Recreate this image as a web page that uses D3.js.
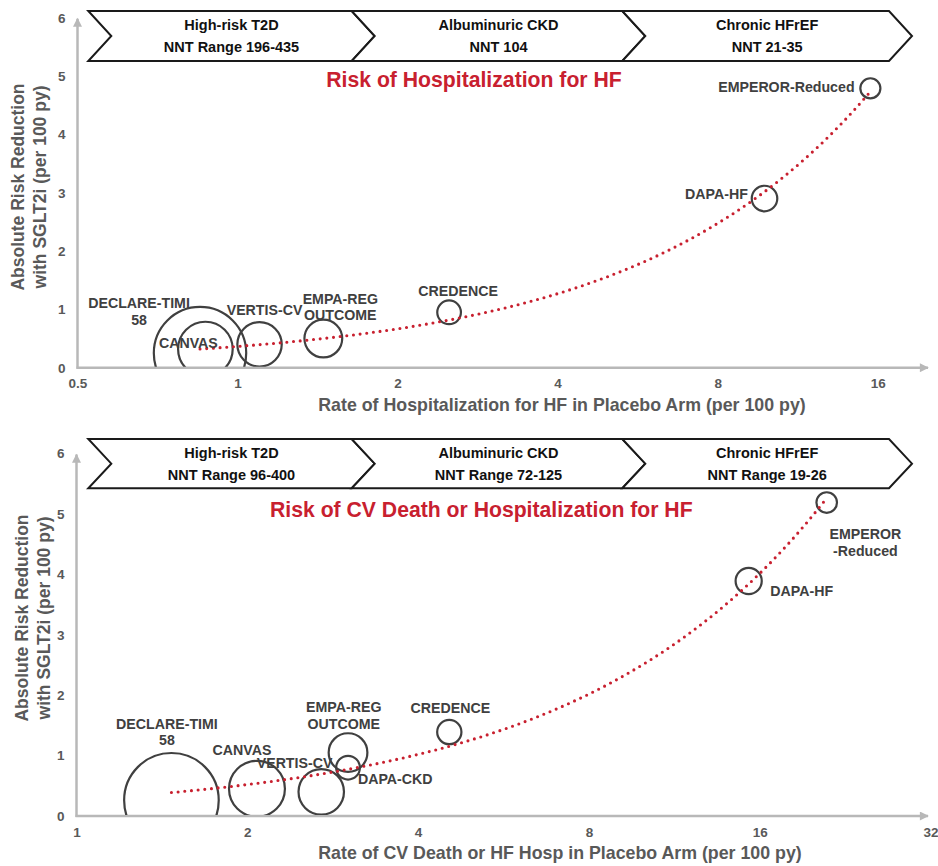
<!DOCTYPE html>
<html>
<head>
<meta charset="utf-8">
<script src="https://cdn.jsdelivr.net/npm/d3@7"></script>
<style>
  html, body { margin: 0; padding: 0; background: #fff; }
  svg { display: block; font-family: "Liberation Sans", Arial, Helvetica, sans-serif; font-weight: bold; }
</style>
</head>
<body>
<svg id="chart" width="938" height="866"></svg>
<script>
// ---- Data ----------------------------------------------------------------
// Patients enrolled per trial (bubble size)
const trialSize = {
  "DECLARE-TIMI 58": 17160,
  "CANVAS": 10142,
  "VERTIS-CV": 8246,
  "EMPA-REG OUTCOME": 7020,
  "CREDENCE": 4401,
  "DAPA-CKD": 4304,
  "DAPA-HF": 4744,
  "EMPEROR-Reduced": 3730
};

// Panel A: hospitalization for heart failure
const hhfTrials = ["DECLARE-TIMI 58", "CANVAS", "VERTIS-CV", "EMPA-REG OUTCOME", "CREDENCE", "DAPA-HF", "EMPEROR-Reduced"];
const hhfPlaceboRate = [0.85, 0.87, 1.10, 1.45, 2.50, 9.8, 15.5];
const hhfRiskReduction = [0.25, 0.32, 0.40, 0.50, 0.95, 2.90, 4.79];
const hhfTicksX = [0.5, 1, 2, 4, 8, 16];

// Panel B: CV death or hospitalization for heart failure
const cvTrials = ["DECLARE-TIMI 58", "CANVAS", "VERTIS-CV", "EMPA-REG OUTCOME", "DAPA-CKD", "CREDENCE", "DAPA-HF", "EMPEROR-Reduced"];
const cvPlaceboRate = [1.47, 2.08, 2.70, 3.01, 3.01, 4.54, 15.3, 21.0];
const cvRiskReduction = [0.26, 0.45, 0.40, 1.05, 0.80, 1.39, 3.89, 5.19];
const cvTicksX = [1, 2, 4, 8, 16, 32];

const yTicks = [0, 1, 2, 3, 4, 5, 6];

// Population bands shown above each panel
const bandNames = ["High-risk T2D", "Albuminuric CKD", "Chronic HFrEF"];
const hhfBandNnt = ["NNT Range 196-435", "NNT 104", "NNT 21-35"];
const cvBandNnt = ["NNT Range 96-400", "NNT Range 72-125", "NNT Range 19-26"];

// ---- Styling -------------------------------------------------------------
const AXIS_GREY = "#b8b8b8";
const TEXT_GREY = "#595959";
const BUBBLE = "#404040";
const RED = "#c8202f";
const FONT = "Liberation Sans, Arial, sans-serif";

const svg = d3.select("#chart");

const defs = svg.append("defs");
defs.append("marker")
  .attr("id", "arrow")
  .attr("viewBox", "0 0 10 10")
  .attr("refX", 9).attr("refY", 5)
  .attr("markerUnits", "userSpaceOnUse")
  .attr("markerWidth", 10).attr("markerHeight", 9)
  .attr("orient", "auto")
  .append("path").attr("d", "M0,0 L10,5 L0,10 z").attr("fill", AXIS_GREY);

// label offsets (px) from each bubble centre
const hhfLabels = {
  "DECLARE-TIMI 58": { dx: -61, dy: -50, lines: ["DECLARE-TIMI", "58"] },
  "CANVAS": { dx: -17, dy: -6 },
  "VERTIS-CV": { dx: 5, dy: -34 },
  "EMPA-REG OUTCOME": { dx: 17, dy: -40, lines: ["EMPA-REG", "OUTCOME"] },
  "CREDENCE": { dx: 9, dy: -21 },
  "DAPA-HF": { dx: -48, dy: -4.5 },
  "EMPEROR-Reduced": { dx: -84, dy: -1 }
};
const cvLabels = {
  "DECLARE-TIMI 58": { dx: -4.5, dy: -76.5, lines: ["DECLARE-TIMI", "58"] },
  "CANVAS": { dx: -15, dy: -38.7 },
  "VERTIS-CV": { dx: -26.7, dy: -29.2 },
  "EMPA-REG OUTCOME": { dx: -4.3, dy: -45.1, lines: ["EMPA-REG", "OUTCOME"] },
  "DAPA-CKD": { dx: 47.2, dy: 11.8 },
  "CREDENCE": { dx: 1, dy: -24.3 },
  "DAPA-HF": { dx: 53, dy: 9.9 },
  "EMPEROR-Reduced": { dx: 38.7, dy: 31.5, lines: ["EMPEROR", "-Reduced"] }
};

function drawPanel(cfg) {
  const g = svg.append("g");
  const x = d3.scaleLog().base(2).domain(cfg.xDomain).range(cfg.xRange);
  const y = d3.scaleLinear().domain([0, 6]).range(cfg.yRange);
  const r = d3.scaleLinear().domain([0, 17160]).range([0, cfg.rMax]);
  const x0 = cfg.xRange[0], y0 = y(0);

  // population bands (chevrons)
  const [bTop, bBot] = cfg.band;
  const bMid = (bTop + bBot) / 2;
  const edges = [88.3, 351.7, 622.3, 889];
  const tip = 23;
  bandNames.forEach((name, i) => {
    const a = edges[i], b = edges[i + 1];
    const pts = [[a, bTop], [b, bTop], [b + tip, bMid], [b, bBot], [a, bBot], [a + tip, bMid]];
    g.append("path")
      .attr("d", d3.line()(pts) + "Z")
      .attr("fill", "#fff").attr("stroke", "#1a1a1a").attr("stroke-width", 2)
      .attr("stroke-linejoin", "miter");
    const cx = (a + tip + b) / 2;
    g.append("text").attr("x", cx).attr("y", bTop + 14).attr("dy", "0.35em")
      .attr("text-anchor", "middle").attr("font-size", 14.5).attr("fill", "#111").text(name);
    g.append("text").attr("x", cx).attr("y", bTop + 35.5).attr("dy", "0.35em")
      .attr("text-anchor", "middle").attr("font-size", 14.5).attr("fill", "#111").text(cfg.nnt[i]);
  });

  // panel title
  g.append("text").attr("x", cfg.title[1]).attr("y", cfg.title[2]).attr("dy", "0.35em")
    .attr("text-anchor", "middle").attr("font-size", 21.2).attr("fill", RED).text(cfg.title[0]);

  // axes (ticks as text only, arrowed axis lines)
  const xAxis = d3.axisBottom(x).tickValues(cfg.ticksX).tickSize(0).tickPadding(11)
    .tickFormat(d => String(d));
  g.append("g").attr("transform", `translate(0,${y0})`).call(xAxis)
    .call(s => s.select(".domain").remove())
    .selectAll("text").attr("font-size", 13.5).attr("fill", TEXT_GREY)
    .attr("font-family", FONT).attr("font-weight", "bold");
  const yAxis = d3.axisLeft(y).tickValues(yTicks).tickSize(0).tickPadding(12)
    .tickFormat(d3.format("d"));
  g.append("g").attr("transform", `translate(${x0},0)`).call(yAxis)
    .call(s => s.select(".domain").remove())
    .selectAll("text").attr("font-size", 13.5).attr("fill", TEXT_GREY)
    .attr("font-family", FONT).attr("font-weight", "bold");

  g.append("line").attr("x1", x0).attr("x2", x0).attr("y1", y0 + 1).attr("y2", y(6) + 1)
    .attr("stroke", AXIS_GREY).attr("stroke-width", 2.5).attr("marker-end", "url(#arrow)");
  g.append("line").attr("x1", x0 - 1).attr("x2", cfg.xAxisEnd).attr("y1", y0).attr("y2", y0)
    .attr("stroke", AXIS_GREY).attr("stroke-width", 2.5).attr("marker-end", "url(#arrow)");

  // axis titles
  g.append("text").attr("x", cfg.xTitle[1]).attr("y", cfg.xTitle[2]).attr("dy", "0.35em")
    .attr("text-anchor", "middle").attr("font-size", 17.8).attr("fill", TEXT_GREY).text(cfg.xTitle[0]);
  const yt = g.append("text").attr("transform", `translate(${cfg.yTitle[0]},${cfg.yTitle[2]}) rotate(-90)`)
    .attr("text-anchor", "middle").attr("font-size", 17.5).attr("fill", TEXT_GREY);
  yt.append("tspan").attr("x", 0).attr("y", 0).attr("dy", "0.35em").text("Absolute Risk Reduction");
  yt.append("tspan").attr("x", 0).attr("y", cfg.yTitle[1] - cfg.yTitle[0]).attr("dy", "0.35em").text("with SGLT2i (per 100 py)");

  // bubbles, clipped at the x axis
  const data = cfg.trials.map((t, i) => ({ name: t, rate: cfg.rate[i], arr: cfg.arr[i], n: trialSize[t] }));
  const clipId = "clip-" + cfg.id;
  defs.append("clipPath").attr("id", clipId).append("rect")
    .attr("x", x0).attr("y", 0).attr("width", 938 - x0).attr("height", y0 - 1);
  g.append("g").attr("clip-path", `url(#${clipId})`)
    .selectAll("circle").data(data).join("circle")
    .attr("cx", d => x(d.rate)).attr("cy", d => y(d.arr)).attr("r", d => r(d.n))
    .attr("fill", "none").attr("stroke", BUBBLE).attr("stroke-width", 2.2);

  // least-squares linear trend (y = a + b·x), drawn across the data range on the log axis
  const mx = d3.mean(data, d => d.rate), my = d3.mean(data, d => d.arr);
  const b = d3.sum(data, d => (d.rate - mx) * (d.arr - my)) / d3.sum(data, d => (d.rate - mx) ** 2);
  const a = my - b * mx;
  const [lo, hi] = d3.extent(data, d => d.rate);
  const samples = d3.range(0, 201).map(i => lo * Math.pow(hi / lo, i / 200));
  g.append("path")
    .attr("d", d3.line().x(v => x(v)).y(v => y(a + b * v))(samples))
    .attr("fill", "none").attr("stroke", RED).attr("stroke-width", 3.1)
    .attr("stroke-linecap", "round").attr("stroke-dasharray", "0 6.7");

  // trial labels
  data.forEach(d => {
    const L = cfg.labels[d.name];
    const lines = L.lines || [d.name];
    const t = g.append("text").attr("text-anchor", "middle").attr("font-size", 14.2).attr("fill", BUBBLE);
    lines.forEach((ln, k) => {
      t.append("tspan").attr("x", x(d.rate) + L.dx).attr("y", y(d.arr) + L.dy + k * 16.6)
        .attr("dy", "0.35em").text(ln);
    });
  });
}

drawPanel({
  id: "hhf",
  xDomain: [0.5, 16], xRange: [77.5, 877.7], xAxisEnd: 928,
  yRange: [367.7, 17.7], rMax: 46.2,
  band: [11, 61], nnt: hhfBandNnt,
  title: ["Risk of Hospitalization for HF", 474, 80],
  ticksX: hhfTicksX,
  xTitle: ["Rate of Hospitalization for HF in Placebo Arm (per 100 py)", 562, 405],
  yTitle: [18.3, 40, 187],
  trials: hhfTrials, rate: hhfPlaceboRate, arr: hhfRiskReduction, labels: hhfLabels
});

drawPanel({
  id: "cv",
  xDomain: [1, 32], xRange: [76.5, 930.5], xAxisEnd: 928,
  yRange: [816, 453.6], rMax: 47.3,
  band: [439, 488.3], nnt: cvBandNnt,
  title: ["Risk of CV Death or Hospitalization for HF", 481.3, 510],
  ticksX: cvTicksX,
  xTitle: ["Rate of CV Death or HF Hosp in Placebo Arm (per 100 py)", 560, 853],
  yTitle: [22, 43.7, 618],
  trials: cvTrials, rate: cvPlaceboRate, arr: cvRiskReduction, labels: cvLabels
});
</script>
</body>
</html>
